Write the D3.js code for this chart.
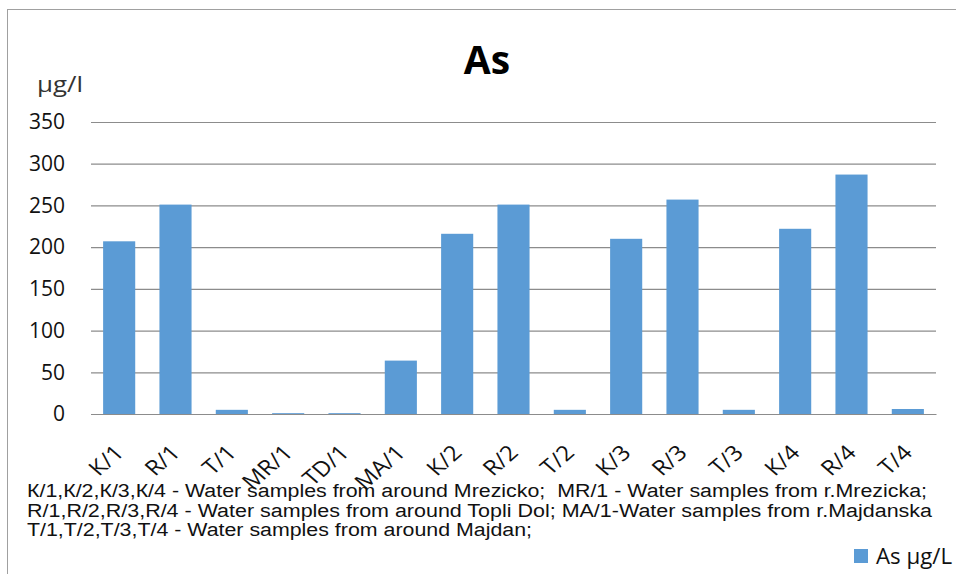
<!DOCTYPE html>
<html>
<head>
<meta charset="utf-8">
<script src="https://cdnjs.cloudflare.com/ajax/libs/d3/7.8.5/d3.min.js"></script>
<style>
html,body{margin:0;padding:0;background:#fff;}
svg{display:block;}
</style>
</head>
<body>
<svg id="chart" width="956" height="574"></svg>
<script>
const categories = ["К/1","R/1","T/1","MR/1","TD/1","MA/1","К/2","R/2","T/2","К/3","R/3","T/3","К/4","R/4","T/4"];
const values = [207, 251, 5, 1, 1, 64, 216, 251, 5, 210, 257, 5, 222, 287, 6];
const yTicks = [0, 50, 100, 150, 200, 250, 300, 350];
const title = "As";
const yUnit = "μg/l";
const seriesName = "As μg/L";
const notes = [
  "К/1,К/2,К/3,К/4 - Water samples from around Mrezicko;  MR/1 - Water samples from r.Mrezicka;",
  "R/1,R/2,R/3,R/4 - Water samples from around Topli Dol; MA/1-Water samples from r.Majdanska",
  "T/1,T/2,T/3,T/4 - Water samples from around Majdan;"
];
const noteWidths = [900, 905, 505];

const svg = d3.select("#chart");
const W = 956, H = 574;
const plotL = 91, plotR = 936, plotT = 122, plotB = 414;
const barColor = "#5B9BD5";
const gridColor = "#8C8C8C";
const labelFont = "'Open Sans', 'Liberation Sans', sans-serif";

// outer chart border
svg.append("rect").attr("x", 7.5).attr("y", 9.5).attr("width", W).attr("height", H)
  .attr("fill", "none").attr("stroke", "#A0A0A0").attr("stroke-width", 1);

const x = d3.scaleBand().domain(categories).range([plotL, plotR]).paddingInner(0.43).paddingOuter(0.215);
const y = d3.scaleLinear().domain([0, 350]).range([plotB, plotT]);

// gridlines + y labels
const yAxis = d3.axisLeft(y).tickValues(yTicks).tickSize(-(plotR - plotL)).tickPadding(26).tickFormat(d3.format("d"));
const gy = svg.append("g").attr("transform", `translate(${plotL},0)`).call(yAxis);
gy.select(".domain").remove();
gy.selectAll(".tick line").attr("stroke", gridColor).attr("stroke-width", 1.2);
gy.selectAll(".tick text").attr("fill", "#111").style("font-family", labelFont).style("font-size", "21px");

// bars
svg.append("g").selectAll("rect").data(values).join("rect")
  .attr("x", (d, i) => x(categories[i]))
  .attr("y", d => y(d))
  .attr("width", x.bandwidth())
  .attr("height", d => y(0) - y(d))
  .attr("fill", barColor);

// x axis baseline + labels
const xAxis = d3.axisBottom(x).tickSize(0).tickPadding(0);
const gx = svg.append("g").attr("transform", `translate(0,${plotB})`).call(xAxis);
gx.select(".domain").attr("stroke", gridColor).attr("stroke-width", 1.2);
gx.selectAll(".tick text")
  .attr("fill", "#111")
  .style("font-family", labelFont).style("font-size", "21px")
  .attr("text-anchor", "end")
  .attr("dy", "0")
  .attr("transform", "translate(6,40) scale(1.15,1) rotate(-45)");

// title
svg.append("text").attr("x", 487).attr("y", 74).attr("text-anchor", "middle")
  .style("font-family", labelFont).style("font-weight", "bold").style("font-size", "39px")
  .attr("fill", "#000").text(title);

// unit label
svg.append("text").attr("x", 37).attr("y", 92)
  .attr("textLength", 46).attr("lengthAdjust", "spacingAndGlyphs")
  .style("font-family", labelFont).style("font-size", "22px").attr("fill", "#333").text(yUnit);

// notes
svg.append("g").selectAll("text").data(notes).join("text")
  .attr("x", 27).attr("y", (d, i) => 497 + i * 19.5)
  .attr("textLength", (d, i) => noteWidths[i]).attr("lengthAdjust", "spacingAndGlyphs")
  .style("font-family", "'Liberation Sans', Arial, sans-serif").style("font-size", "18px")
  .style("white-space", "pre").attr("xml:space", "preserve")
  .attr("fill", "#111").text(d => d);

// legend
const lg = svg.append("g").attr("transform", "translate(854,549)");
lg.append("rect").attr("width", 14).attr("height", 14).attr("fill", barColor);
lg.append("text").attr("x", 22).attr("y", 15)
  .attr("textLength", 76).attr("lengthAdjust", "spacingAndGlyphs")
  .style("font-family", labelFont).style("font-size", "22px").attr("fill", "#111").text(seriesName);
</script>
</body>
</html>
